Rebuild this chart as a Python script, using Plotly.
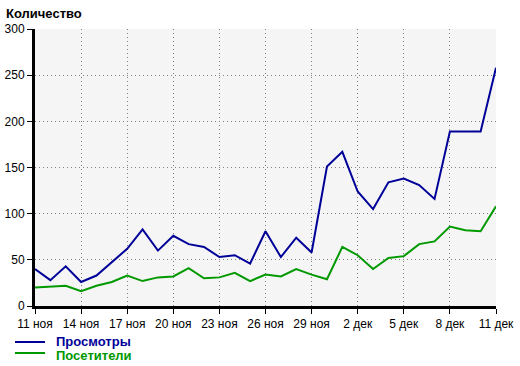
import plotly.graph_objects as go

days = ["11 ноя","12 ноя","13 ноя","14 ноя","15 ноя","16 ноя","17 ноя","18 ноя","19 ноя","20 ноя",
        "21 ноя","22 ноя","23 ноя","24 ноя","25 ноя","26 ноя","27 ноя","28 ноя","29 ноя","30 ноя",
        "1 дек","2 дек","3 дек","4 дек","5 дек","6 дек","7 дек","8 дек","9 дек","10 дек","11 дек"]
views = [40, 28, 43, 26, 33, 48, 62, 83, 60, 76, 67, 64, 53, 55, 46, 81, 53, 74, 58, 151,
         167, 124, 105, 134, 138, 131, 116, 189, 189, 189, 258]
visitors = [20, 21, 22, 16, 22, 26, 33, 27, 31, 32, 41, 30, 31, 36, 27, 34, 32, 40, 34, 29,
            64, 55, 40, 52, 54, 67, 70, 86, 82, 81, 108]
y_ticks = [0, 50, 100, 150, 200, 250, 300]
series_names = ["Просмотры", "Посетители"]
series_colors = ["#000099", "#009900"]

x = list(range(len(days)))
tick_idx = x[::3]

L, R, T, B = 35, 24, 29, 60
W, H = 520, 366
pw, ph = W - L - R, H - T - B

def px(xp):
    return (xp - L) / pw

def py(yp):
    return (H - B - yp) / ph

fig = go.Figure()
for vals, name, col in zip([views, visitors], series_names, series_colors):
    fig.add_trace(go.Scatter(x=x, y=vals, mode="lines", line=dict(color=col, width=2),
                             name=name, showlegend=False))

shapes = []
annotations = [dict(text="<b>Количество</b>", xref="paper", yref="paper", x=px(4), y=py(13),
                    xanchor="left", yanchor="middle", showarrow=False,
                    font=dict(size=13, color="black"))]
line_y = [342, 353]
text_y = [341, 355]
for i, (name, col) in enumerate(zip(series_names, series_colors)):
    shapes.append(dict(type="line", xref="paper", yref="paper", x0=px(15), x1=px(45),
                       y0=py(line_y[i]), y1=py(line_y[i]), line=dict(color=col, width=2)))
    annotations.append(dict(text="<b>" + name + "</b>", xref="paper", yref="paper",
                            x=px(54), y=py(text_y[i]), xanchor="left", yanchor="middle",
                            showarrow=False, font=dict(size=13, color=col)))

fig.update_layout(
    width=W, height=H,
    margin=dict(l=L, r=R, t=T, b=B),
    paper_bgcolor="white", plot_bgcolor="#f5f5f5",
    font=dict(family="Liberation Sans, Arial, sans-serif", size=12, color="black"),
    showlegend=False,
    shapes=shapes,
    annotations=annotations,
)
fig.update_xaxes(range=[0, 30], tickvals=tick_idx, ticktext=[days[i] for i in tick_idx],
                 showgrid=True, gridcolor="#808080", griddash="1px,3px", gridwidth=1,
                 showline=True, linecolor="black", linewidth=3, automargin=False,
                 ticks="outside", ticklen=5, tickcolor="black", tickwidth=1, zeroline=False)
fig.update_yaxes(range=[0, 300], tickvals=y_ticks,
                 showgrid=True, gridcolor="#808080", griddash="1px,3px", gridwidth=1,
                 showline=True, linecolor="black", linewidth=3, automargin=False,
                 ticks="outside", ticklen=5, tickcolor="black", tickwidth=1, zeroline=False)

fig.write_html("out.html")
